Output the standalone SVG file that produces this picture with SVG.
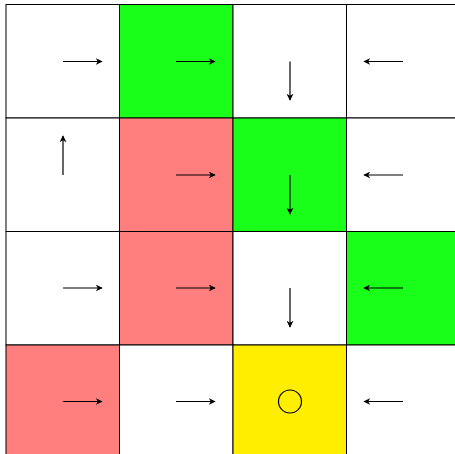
<svg xmlns="http://www.w3.org/2000/svg" width="455" height="454" viewBox="0 0 455 454">
<style>
.cell{stroke:#000;stroke-width:1}
.w{fill:#fff}.g{fill:#19ff19}.r{fill:#ff7f7f}.y{fill:#ffee00}
.arr{stroke:#000;stroke-width:1.2;fill:none;marker-end:url(#ah)}
</style>
<defs>
<marker id="ah" viewBox="0 0 10 10" refX="9" refY="5" markerWidth="7" markerHeight="7" markerUnits="userSpaceOnUse" orient="auto">
<path d="M0,0 L10,5 L0,10 L3,5 Z" fill="#000"/>
</marker>
</defs>
<rect width="455" height="454" fill="#fff"/>
<g id="cells">
<g id="c00"><rect class="cell w" x="6" y="4.5" width="113.5" height="113.5"/></g>
<g id="c10"><rect class="cell g" x="119.5" y="4.5" width="113.5" height="113.5"/></g>
<g id="c20"><rect class="cell w" x="233" y="4.5" width="113.5" height="113.5"/></g>
<g id="c30"><rect class="cell w" x="346.5" y="4.5" width="113.5" height="113.5"/></g>
<g id="c01"><rect class="cell w" x="6" y="118" width="113.5" height="113.5"/></g>
<g id="c11"><rect class="cell r" x="119.5" y="118" width="113.5" height="113.5"/></g>
<g id="c21"><rect class="cell g" x="233" y="118" width="113.5" height="113.5"/></g>
<g id="c31"><rect class="cell w" x="346.5" y="118" width="113.5" height="113.5"/></g>
<g id="c02"><rect class="cell w" x="6" y="231.5" width="113.5" height="113.5"/></g>
<g id="c12"><rect class="cell r" x="119.5" y="231.5" width="113.5" height="113.5"/></g>
<g id="c22"><rect class="cell w" x="233" y="231.5" width="113.5" height="113.5"/></g>
<g id="c32"><rect class="cell g" x="346.5" y="231.5" width="113.5" height="113.5"/></g>
<g id="c03"><rect class="cell r" x="6" y="345" width="113.5" height="113.5"/></g>
<g id="c13"><rect class="cell w" x="119.5" y="345" width="113.5" height="113.5"/></g>
<g id="c23"><rect class="cell y" x="233" y="345" width="113.5" height="113.5"/><circle cx="290" cy="401.5" r="11.5" fill="none" stroke="#000" stroke-width="1.2"/></g>
<g id="c33"><rect class="cell w" x="346.5" y="345" width="113.5" height="113.5"/></g>
</g>
<g id="arrows">
<path class="arr" d="M63,61.5 H102"/>
<path class="arr" d="M176,61.5 H215"/>
<path class="arr" d="M290,61.5 V100"/>
<path class="arr" d="M403,61.5 H364"/>
<path class="arr" d="M63,175 V136"/>
<path class="arr" d="M176,175 H215"/>
<path class="arr" d="M290,175 V214"/>
<path class="arr" d="M403,175 H364"/>
<path class="arr" d="M63,288 H102"/>
<path class="arr" d="M176,288 H215"/>
<path class="arr" d="M290,288 V327"/>
<path class="arr" d="M403,288 H364"/>
<path class="arr" d="M63,401.5 H102"/>
<path class="arr" d="M176,401.5 H215"/>
<path class="arr" d="M403,401.5 H364"/>
</g>
</svg>
